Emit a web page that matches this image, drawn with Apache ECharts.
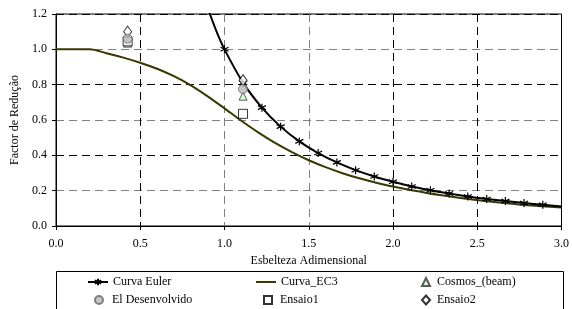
<!DOCTYPE html>
<html>
<head>
<meta charset="utf-8">
<script src="https://cdn.jsdelivr.net/npm/echarts@6/dist/echarts.min.js"></script>
<style>
  html, body { margin: 0; padding: 0; background: #fff; }
  #chart { width: 572px; height: 309px; }
</style>
</head>
<body>
<div id="chart"></div>
<script>
// curva de Euler (1/lambda^2), marcadores a cada 1/9
var eulerX = [0.9, 0.95, 1.0, 1.111, 1.222, 1.333, 1.444, 1.556, 1.667, 1.778, 1.889, 2.0, 2.111, 2.222, 2.333, 2.444, 2.556, 2.667, 2.778, 2.889, 3.0];
var eulerY = [1.235, 1.108, 1.0, 0.81, 0.67, 0.5625, 0.479, 0.413, 0.36, 0.316, 0.28, 0.25, 0.224, 0.2025, 0.184, 0.167, 0.153, 0.141, 0.13, 0.12, 0.111];
var eulerNoMark = [0.9, 0.95, 3.0];
// curva EC3
var ec3X = [0, 0.2, 0.3, 0.4, 0.5, 0.6, 0.7, 0.8, 0.9, 1.0, 1.1, 1.2, 1.3, 1.4, 1.5, 1.6, 1.7, 1.8, 1.9, 2.0, 2.2, 2.4, 2.6, 2.8, 3.0];
var ec3Y = [1.0, 1.0, 0.978, 0.953, 0.924, 0.89, 0.848, 0.796, 0.734, 0.666, 0.596, 0.53, 0.47, 0.418, 0.372, 0.333, 0.299, 0.27, 0.245, 0.223, 0.187, 0.159, 0.136, 0.118, 0.104];
// ensaios / resultados
var cosmos = [[0.425, 1.035], [1.11, 0.735]];
var desenvolvido = [[0.425, 1.06], [1.11, 0.775]];
var ensaio1 = [[0.425, 1.045], [1.11, 0.635]];
var ensaio2 = [[0.425, 1.10], [1.11, 0.825]];
var xTicks = ['0.0', '0.5', '1.0', '1.5', '2.0', '2.5', '3.0'];

var font = 'Liberation Serif';
var asterisk = 'path://M5 0L5 10M0.7 2.5L9.3 7.5M0.7 7.5L9.3 2.5';

var eulerData = eulerX.map(function (x, i) {
  var d = { value: [x, eulerY[i]] };
  if (eulerNoMark.indexOf(x) >= 0) d.symbol = 'none';
  return d;
});
var ec3Data = ec3X.map(function (x, i) { return [x, ec3Y[i]]; });

var chart = echarts.init(document.getElementById('chart'));

// uma legenda por entrada, posicionadas como no original
function leg(item, left, top, w, h, pad) {
  return {
    data: [item], left: left, top: top, itemWidth: w, itemHeight: h,
    itemGap: 0, padding: 0, selectedMode: false,
    textStyle: { fontFamily: font, fontSize: 12, color: '#000', padding: [0, 0, 0, pad || 0] }
  };
}

chart.setOption({
  animation: false,
  grid: {
    left: 56, right: 10, top: 14, bottom: 83,
    show: true, borderColor: '#000', borderWidth: 1, backgroundColor: '#fff'
  },
  xAxis: {
    type: 'value', min: 0, max: 3, interval: 0.5,
    name: 'Esbelteza Adimensional', nameLocation: 'middle', nameGap: 25,
    nameTextStyle: { fontFamily: font, fontSize: 12, color: '#000' },
    axisLine: { lineStyle: { color: '#000', width: 1 } },
    axisTick: { show: true, length: 4, lineStyle: { color: '#000' } },
    axisLabel: {
      fontFamily: font, fontSize: 12, color: '#000', margin: 12,
      formatter: function (v) { return xTicks[Math.round(v * 2)]; }
    },
    splitLine: {
      show: true,
      lineStyle: { color: ['#000', '#000', '#808080', '#808080', '#000', '#000', '#000'], type: [8, 5], width: 1 }
    }
  },
  yAxis: {
    type: 'value', min: 0, max: 1.2, interval: 0.2,
    name: 'Factor de Redução', nameLocation: 'middle', nameGap: 35,
    nameTextStyle: { fontFamily: font, fontSize: 12, color: '#000' },
    axisLine: { show: true, lineStyle: { color: '#000', width: 1 } },
    axisTick: { show: true, length: 4, lineStyle: { color: '#000' } },
    axisLabel: {
      fontFamily: font, fontSize: 12, color: '#000', margin: 9,
      formatter: function (v) { return v.toFixed(1); }
    },
    splitLine: {
      show: true,
      lineStyle: { color: ['#000', '#808080'], type: [8, 5], width: 1 }
    }
  },
  legend: [
    leg('Curva Euler', 87, 276, 20, 8),
    leg({ name: 'Curva_EC3', icon: 'rect' }, 256, 276, 20, 2),
    leg('Cosmos_(beam)', 421, 276, 8, 8, 2),
    leg('El Desenvolvido', 94, 294, 8, 8, 4),
    leg('Ensaio1', 263, 294, 8, 8, 3),
    leg('Ensaio2', 421, 294, 8, 9, 2)
  ],
  graphic: [{
    type: 'rect', left: 56, top: 271, z: -1,
    shape: { width: 507, height: 60 },
    style: { fill: '#fff', stroke: '#000', lineWidth: 1 }
  }],
  series: [
    {
      name: 'Curva Euler', type: 'line', data: eulerData,
      smooth: 0.3, symbol: asterisk, symbolSize: 8, z: 4,
      lineStyle: { color: '#000', width: 2 },
      itemStyle: { color: 'transparent', borderColor: '#000', borderWidth: 1.2 }
    },
    {
      name: 'Curva_EC3', type: 'line', data: ec3Data,
      smooth: 0.3, symbol: 'none', z: 3,
      lineStyle: { color: '#383800', width: 2 },
      itemStyle: { color: '#383800' }
    },
    {
      name: 'Cosmos_(beam)', type: 'scatter', data: cosmos,
      symbol: 'triangle', symbolSize: 8, z: 5,
      itemStyle: { color: '#ccffcc', borderColor: '#333', borderWidth: 1 }
    },
    {
      name: 'El Desenvolvido', type: 'scatter', data: desenvolvido,
      symbol: 'circle', symbolSize: 9, z: 6,
      itemStyle: { color: '#b8b8b8', borderColor: '#666', borderWidth: 1 }
    },
    {
      name: 'Ensaio1', type: 'scatter', data: ensaio1,
      symbol: 'rect', symbolSize: 9, z: 5,
      itemStyle: { color: '#fff', borderColor: '#000', borderWidth: 1 }
    },
    {
      name: 'Ensaio2', type: 'scatter', data: ensaio2,
      symbol: 'diamond', symbolSize: [8, 11], z: 5,
      itemStyle: { color: '#fff', borderColor: '#000', borderWidth: 1 }
    }
  ]
});
</script>
</body>
</html>
